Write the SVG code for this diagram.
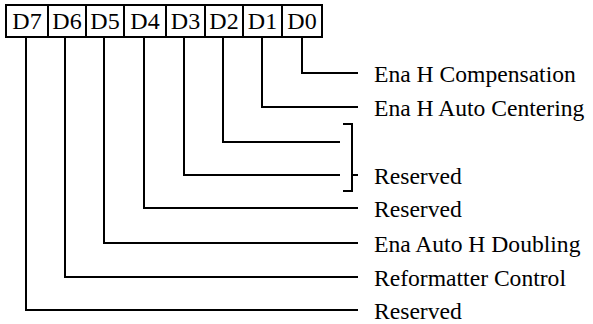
<svg xmlns="http://www.w3.org/2000/svg" width="593" height="324" viewBox="0 0 593 324">
<style>
.box{fill:#fff;stroke:#000;stroke-width:2}
.bt{font-family:"Liberation Serif","Times New Roman",serif;font-size:24px;fill:#000;text-anchor:middle}
.lb{font-family:"Liberation Serif","Times New Roman",serif;font-size:23.6px;fill:#000}
.ln{fill:none;stroke:#000;stroke-width:2}
</style>
<rect width="593" height="324" fill="#fff"/>
<g id="register">
<g id="D7"><rect class="box" x="6" y="5" width="42" height="32"/><text class="bt" x="27" y="29">D7</text></g>
<g id="D6"><rect class="box" x="48" y="5" width="38" height="32"/><text class="bt" x="67" y="29">D6</text></g>
<g id="D5"><rect class="box" x="86" y="5" width="38" height="32"/><text class="bt" x="105" y="29">D5</text></g>
<g id="D4"><rect class="box" x="124" y="5" width="42" height="32"/><text class="bt" x="145" y="29">D4</text></g>
<g id="D3"><rect class="box" x="166" y="5" width="39" height="32"/><text class="bt" x="185.5" y="29">D3</text></g>
<g id="D2"><rect class="box" x="205" y="5" width="38" height="32"/><text class="bt" x="224" y="29">D2</text></g>
<g id="D1"><rect class="box" x="243" y="5" width="39" height="32"/><text class="bt" x="262.5" y="29">D1</text></g>
<g id="D0"><rect class="box" x="282" y="5" width="40" height="32"/><text class="bt" x="302" y="29">D0</text></g>
</g>
<g id="connectors">
<path class="ln" d="M302 37V73H358"/>
<path class="ln" d="M262 37V107H358"/>
<path class="ln" d="M223 37V142H340"/>
<path class="ln" d="M184 37V175H340"/>
<path class="ln" d="M144 37V208H358"/>
<path class="ln" d="M104 37V243H358"/>
<path class="ln" d="M65 37V277H358"/>
<path class="ln" d="M26 37V310H358"/>
<path class="ln" d="M343 124H352V191H343M352 175H358"/>
</g>
<g id="labels">
<text class="lb" x="374" y="82">Ena H Compensation</text>
<text class="lb" x="374" y="116">Ena H Auto Centering</text>
<text class="lb" x="374" y="184">Reserved</text>
<text class="lb" x="374" y="217">Reserved</text>
<text class="lb" x="374" y="252">Ena Auto H Doubling</text>
<text class="lb" x="374" y="286">Reformatter Control</text>
<text class="lb" x="374" y="319">Reserved</text>
</g>
</svg>
